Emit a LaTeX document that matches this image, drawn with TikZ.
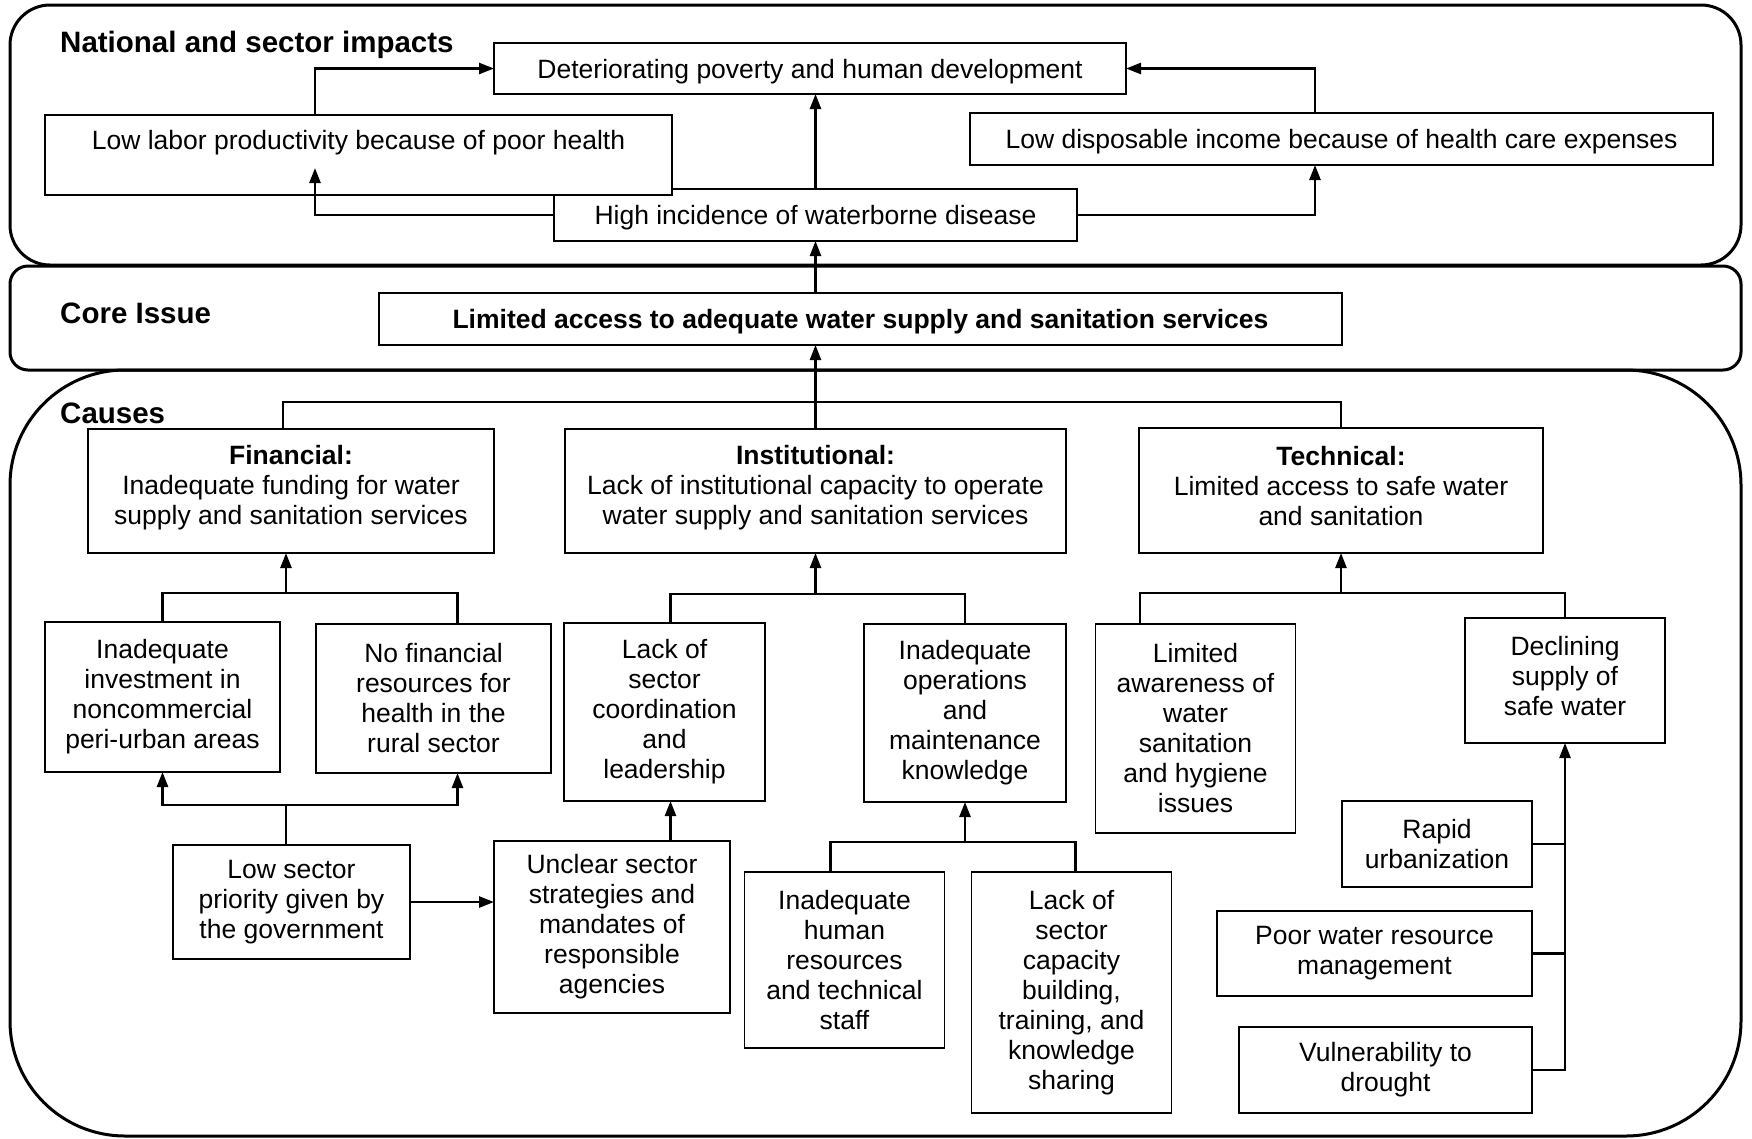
\documentclass[tikz,border=0pt]{standalone}
\usepackage{fontspec}
\setmainfont{Liberation Sans}
\usetikzlibrary{arrows.meta}

\begin{document}
\begin{tikzpicture}[x = 1pt, y = -1pt,
                    font = \fontsize{26.5}{30}\selectfont,
                    box/.style = {draw, line width = 1.5pt, fill = white, align = center, inner sep = 0pt, outer sep = 0pt},
                    one/.style = {box, text depth = 0pt},
                    head/.style = {anchor = west, inner sep = 0pt, font = \fontsize{29.5}{33}\selectfont\bfseries},
                    frame/.style = {draw, line width = 3pt},
                    link/.style = {line width = 2.5pt},
                    arr/.style = {line width = 2.5pt, -{Triangle[length = 15pt, width = 11pt]}}]
  \useasboundingbox (0, 0) rectangle (1752, 1138);
  \draw [frame, rounded corners = 40pt] (10, 5) rectangle (1741, 265);
  \draw [frame, rounded corners = 18pt] (10, 266) rectangle (1741, 370);
  \draw [frame, rounded corners = 115pt] (10, 370) rectangle (1741, 1136);
  \node [head] (nat) at (60, 45) {National and sector impacts};
  \node [head] (cor) at (60, 313) {Core Issue};
  \node [head] (cau) at (60, 413) {Causes};

  \node [one, minimum width = 632pt, minimum height = 51pt] (pov) at (810, 68.5) {Deteriorating poverty and human development};
  \node [one, minimum width = 523pt, minimum height = 52pt] (dis) at (815.5, 215) {High incidence of waterborne disease};
  \node [one, minimum width = 627pt, minimum height = 80pt] (lab) at (358.5, 155) {Low labor productivity because of poor health\\ \strut};
  \node [one, minimum width = 743pt, minimum height = 52pt] (inc) at (1341.5, 139) {Low disposable income because of health care expenses};
  \node [one, minimum width = 963pt, minimum height = 52pt, font = \fontsize{26.5}{30}\selectfont\bfseries] (core) at (860.5, 319) {Limited access to adequate water supply and sanitation services};

  \node [box, minimum width = 406pt, minimum height = 124pt, text depth = 12pt] (fin) at (291, 491) {\textbf{Financial:}\\ Inadequate funding for water\\ supply and sanitation services};
  \node [box, minimum width = 501pt, minimum height = 124pt, text depth = 12pt] (ins) at (815.5, 491) {\textbf{Institutional:}\\ Lack of institutional capacity to operate\\ water supply and sanitation services};
  \node [box, minimum width = 404pt, minimum height = 125pt, text depth = 10pt] (tec) at (1341, 490.5) {\textbf{Technical:}\\ Limited access to safe water\\ and sanitation};

  \node [box, minimum width = 235pt, minimum height = 150pt] (f1) at (162.5, 697) {Inadequate\\ investment in\\ noncommercial\\ peri-urban areas};
  \node [box, minimum width = 235pt, minimum height = 149pt] (f2) at (433.5, 698.5) {No financial\\ resources for\\ health in the\\ rural sector};
  \node [box, minimum width = 237pt, minimum height = 114pt] (f3) at (291.5, 902) {Low sector\\ priority given by\\ the government};

  \node [box, minimum width = 201pt, minimum height = 178pt] (i1) at (664.5, 712) {Lack of\\ sector\\ coordination\\ and\\ leadership};
  \node [box, minimum width = 202pt, minimum height = 178pt] (i2) at (965, 713) {Inadequate\\ operations\\ and\\ maintenance\\ knowledge};
  \node [box, minimum width = 236pt, minimum height = 172pt] (i3) at (612, 927) {Unclear sector\\ strategies and\\ mandates of\\ responsible\\ agencies};
  \node [box, minimum width = 200pt, minimum height = 176pt] (i4) at (844.5, 960) {Inadequate\\ human\\ resources\\ and technical\\ staff};
  \node [box, minimum width = 200pt, minimum height = 241pt] (i5) at (1071.5, 992.5) {Lack of\\ sector\\ capacity\\ building,\\ training, and\\ knowledge\\ sharing};

  \node [box, minimum width = 200pt, minimum height = 209pt] (t1) at (1195.5, 728.5) {Limited\\ awareness of\\ water\\ sanitation\\ and hygiene\\ issues};
  \node [box, minimum width = 200pt, minimum height = 125pt, text depth = 10pt] (t2) at (1565, 680.5) {Declining\\ supply of\\ safe water};
  \node [box, minimum width = 190pt, minimum height = 86pt] (t3) at (1437, 844) {Rapid\\ urbanization};
  \node [box, minimum width = 315pt, minimum height = 85pt] (t4) at (1374.5, 953.5) {Poor water resource\\ management};
  \node [box, minimum width = 293pt, minimum height = 86pt] (t5) at (1385.5, 1070) {Vulnerability to\\ drought};

  \draw [arr] ([xshift = -43.5pt]lab.north) |- (pov.west);
  \draw [arr] ([xshift = -26.5pt]inc.north) |- (pov.east);
  \draw [arr] (dis.north) -- (dis.north |- pov.south);
  \draw [arr] (dis.west) -| ([xshift = -43.5pt, yshift = 27pt]lab.south);
  \draw [arr] (dis.east) -| ([xshift = -26.5pt]inc.south);
  \draw [arr] (dis.south |- core.north) -- (dis.south);

  \coordinate (cb) at (815.5, 402);
  \draw [link] ([xshift = -8pt]fin.north) |- (cb) -| (tec.north);
  \draw [arr] (ins.north) -- (ins.north |- core.south);

  \coordinate (fb) at (286, 593);
  \draw [link] (f1.north) |- (fb) -| ([xshift = 24pt]f2.north);
  \draw [arr] (fb) -- (fb |- fin.south);
  \coordinate (fc) at (286, 805);
  \draw [link] (fc |- f3.north) -- (fc);
  \draw [arr] (fc) -| (f1.south);
  \draw [arr] (fc) -| ([xshift = 24pt]f2.south);
  \draw [arr] (f3.east) -- (f3.east -| i3.west);

  \coordinate (ib) at (815.5, 594);
  \draw [link] ([xshift = 6pt]i1.north) |- (ib) -| (i2.north);
  \draw [arr] (ib) -- (ins.south);
  \draw [arr] ([xshift = 58.5pt]i3.north) -- ([xshift = 58.5pt]i3.north |- i1.south);
  \coordinate (ic) at (965, 842);
  \draw [link] ([xshift = -14pt]i4.north) |- (ic) -| ([xshift = 4pt]i5.north);
  \draw [arr] (ic) -- (i2.south);

  \coordinate (tb) at (1341, 593);
  \draw [link] ([xshift = -55.5pt]t1.north) |- (tb) -| (t2.north);
  \draw [arr] (tb) -- (tec.south);
  \draw [arr] (t5.east) -| (t2.south);
  \draw [link] (t3.east) -- (t3.east -| t2.south);
  \draw [link] (t4.east) -- (t4.east -| t2.south);
\end{tikzpicture}
\end{document}
